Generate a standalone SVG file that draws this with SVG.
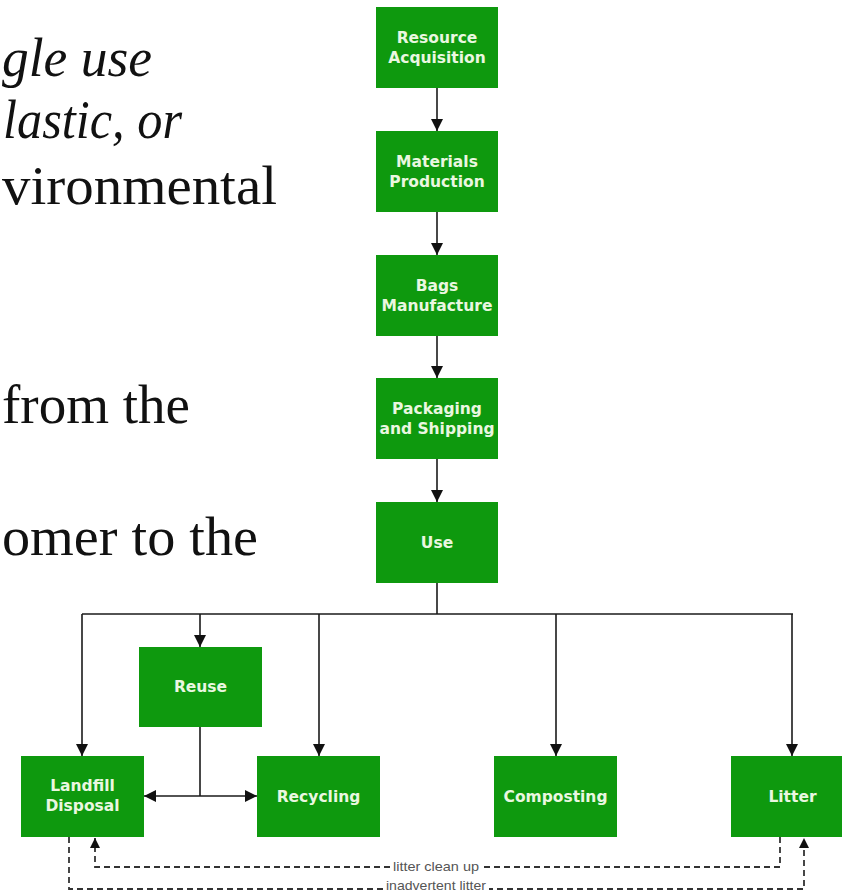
<svg xmlns="http://www.w3.org/2000/svg" width="842" height="894" viewBox="0 0 842 894">
<defs>
<style>
.bg{fill:#ffffff}
.box{fill:#0e990e}
.lbl{font-family:"DejaVu Sans",Verdana,sans-serif;font-weight:bold;font-size:15.5px;fill:#eaf7e0;text-anchor:middle}
.body{font-family:"Liberation Serif","Times New Roman",serif;font-size:55px;fill:#111}
.it{font-style:italic}
.con{fill:none;stroke:#1a1a1a;stroke-width:1.6}
.dash{fill:none;stroke:#333;stroke-width:1.8;stroke-dasharray:6 4}
.note{font-family:"Liberation Sans",Arial,sans-serif;font-size:13px;fill:#555;text-anchor:middle}
</style>
<marker id="ah" viewBox="0 0 10 10" refX="10" refY="5" markerWidth="12" markerHeight="12" markerUnits="userSpaceOnUse" orient="auto">
<path d="M0,0 L10,5 L0,10 Z" fill="#111"/>
</marker>
<marker id="ahs" viewBox="0 0 10 10" refX="10" refY="5" markerWidth="11" markerHeight="10" markerUnits="userSpaceOnUse" orient="auto">
<path d="M0,0 L10,5 L0,10 Z" fill="#111"/>
</marker>
</defs>
<rect class="bg" x="0" y="0" width="842" height="894"/>

<g id="bodytext">
<text class="body it" x="2" y="76" textLength="150" lengthAdjust="spacingAndGlyphs">gle use</text>
<text class="body it" x="3" y="138" textLength="179" lengthAdjust="spacingAndGlyphs">lastic, or</text>
<text class="body" x="2" y="204" textLength="275" lengthAdjust="spacingAndGlyphs">vironmental</text>
<text class="body" x="2" y="423" textLength="188" lengthAdjust="spacingAndGlyphs">from the</text>
<text class="body" x="2" y="555" textLength="256" lengthAdjust="spacingAndGlyphs">omer to the</text>
</g>

<g id="connectors">
<path class="con" d="M437,88 V131" marker-end="url(#ah)"/>
<path class="con" d="M437,212 V255" marker-end="url(#ah)"/>
<path class="con" d="M437,336 V378" marker-end="url(#ah)"/>
<path class="con" d="M437,459 V502" marker-end="url(#ah)"/>
<path class="con" d="M437,583 V614"/>
<path class="con" d="M82,614 H793"/>
<path class="con" d="M82,614 V756" marker-end="url(#ah)"/>
<path class="con" d="M200,614 V647" marker-end="url(#ah)"/>
<path class="con" d="M319,614 V756" marker-end="url(#ah)"/>
<path class="con" d="M556,614 V756" marker-end="url(#ah)"/>
<path class="con" d="M792,614 V756" marker-end="url(#ah)"/>
<path class="con" d="M200,727 V796"/>
<path class="con" d="M200,796 H144" marker-end="url(#ah)"/>
<path class="con" d="M200,796 H257" marker-end="url(#ah)"/>
<path class="dash" d="M780,837 V867 H95 V838" marker-end="url(#ahs)"/>
<path class="dash" d="M69,837 V889 H804 V838" marker-end="url(#ahs)"/>
<rect x="391" y="860" width="90" height="15" fill="#fff"/>
<text class="note" x="436" y="871" textLength="86" lengthAdjust="spacingAndGlyphs">litter clean up</text>
<rect x="383" y="881" width="106" height="13" fill="#fff"/>
<text class="note" x="436" y="890" textLength="100" lengthAdjust="spacingAndGlyphs">inadvertent litter</text>
</g>

<g id="resource">
<rect class="box" x="376" y="7" width="122" height="81"/>
<text class="lbl" x="437" y="43">Resource</text>
<text class="lbl" x="437" y="63">Acquisition</text>
</g>
<g id="materials">
<rect class="box" x="376" y="131" width="122" height="81"/>
<text class="lbl" x="437" y="167">Materials</text>
<text class="lbl" x="437" y="187">Production</text>
</g>
<g id="bags">
<rect class="box" x="376" y="255" width="122" height="81"/>
<text class="lbl" x="437" y="291">Bags</text>
<text class="lbl" x="437" y="311">Manufacture</text>
</g>
<g id="packaging">
<rect class="box" x="376" y="378" width="122" height="81"/>
<text class="lbl" x="437" y="414">Packaging</text>
<text class="lbl" x="437" y="434">and Shipping</text>
</g>
<g id="use">
<rect class="box" x="376" y="502" width="122" height="81"/>
<text class="lbl" x="437" y="548">Use</text>
</g>
<g id="reuse">
<rect class="box" x="139" y="647" width="123" height="80"/>
<text class="lbl" x="200.5" y="692">Reuse</text>
</g>
<g id="landfill">
<rect class="box" x="21" y="756" width="123" height="81"/>
<text class="lbl" x="82.5" y="791">Landfill</text>
<text class="lbl" x="82.5" y="811">Disposal</text>
</g>
<g id="recycling">
<rect class="box" x="257" y="756" width="123" height="81"/>
<text class="lbl" x="318.5" y="802">Recycling</text>
</g>
<g id="composting">
<rect class="box" x="494" y="756" width="123" height="81"/>
<text class="lbl" x="555.5" y="802">Composting</text>
</g>
<g id="litter">
<rect class="box" x="731" y="756" width="123" height="81"/>
<text class="lbl" x="792.5" y="802">Litter</text>
</g>
</svg>
